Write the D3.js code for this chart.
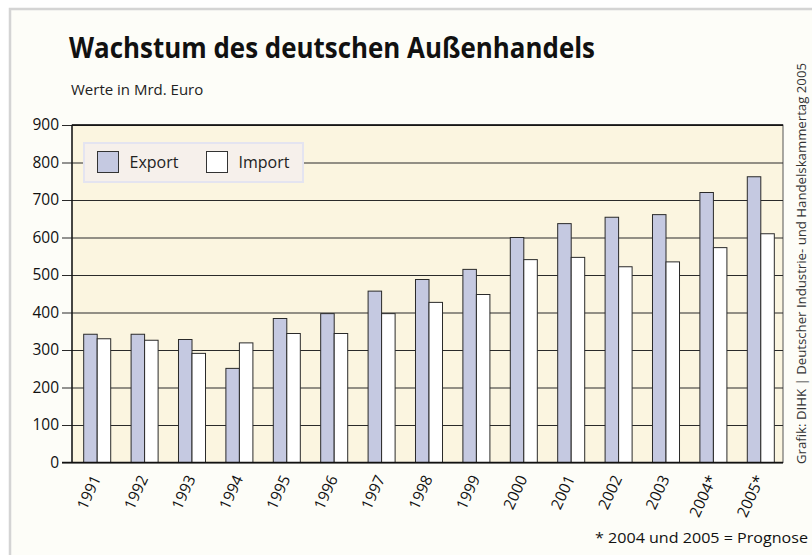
<!DOCTYPE html>
<html>
<head>
<meta charset="utf-8">
<script src="https://cdn.jsdelivr.net/npm/d3@7"></script>
<style>
  body { margin: 0; background: #fff; }
  svg { display: block; font-family: "Open Sans", sans-serif; }
</style>
</head>
<body>
<svg width="812" height="555"></svg>
<script>
// data (Mrd. Euro)
var years = ['1991', '1992', '1993', '1994', '1995', '1996', '1997', '1998',
             '1999', '2000', '2001', '2002', '2003', '2004*', '2005*'];
var exportVals = [342, 342, 328, 251, 384, 397, 457, 488, 515, 600, 637, 654, 661, 720, 762];
var importVals = [330, 326, 291, 319, 344, 344, 397, 427, 448, 541, 547, 522, 535, 573, 610];
var yTicks = [0, 100, 200, 300, 400, 500, 600, 700, 800, 900];
var seriesNames = ['Export', 'Import'];

var svg = d3.select('svg');
var W = +svg.attr('width'), H = +svg.attr('height');

// plot area
var plot = {l: 72, r: 783, t: 125, b: 462.5};

// card + shadow edge
svg.append('rect').attr('x', 0).attr('y', 0).attr('width', W).attr('height', H).attr('fill', '#ffffff');
svg.append('rect').attr('x', 10).attr('y', 9).attr('width', W).attr('height', H)
  .attr('fill', '#fdfdf8').attr('stroke', '#d4d4d4').attr('stroke-width', 2.5);

// helper: fit text to a measured width
function fit(sel, w) {
  var len = sel.node().getComputedTextLength();
  if (Math.abs(len - w) > 2) sel.attr('textLength', w).attr('lengthAdjust', 'spacingAndGlyphs');
}

// title & subtitle
var title = svg.append('text').attr('x', 69).attr('y', 58)
  .style('font-size', '29px').style('font-weight', 700).style('fill', '#111')
  .text('Wachstum des deutschen Außenhandels');
fit(title, 526);

svg.append('text').attr('x', 71).attr('y', 95)
  .style('font-size', '15px').style('fill', '#222')
  .text('Werte in Mrd. Euro');

var x = d3.scaleBand().domain(years).range([73.5, 784.5]).paddingInner(0.43).paddingOuter(0.215);
var xs = d3.scaleBand().domain(seriesNames).range([0, x.bandwidth()]);
var y = d3.scaleLinear().domain([0, 900]).range([plot.b, plot.t]);

// background
svg.append('rect').attr('x', plot.l).attr('y', plot.t)
  .attr('width', plot.r - plot.l).attr('height', plot.b - plot.t)
  .attr('fill', '#fbf5e0').attr('stroke', '#555').attr('stroke-width', 1);

// grid lines + ticks
var yAxis = d3.axisLeft(y).tickValues(yTicks).tickSize(-(plot.r - plot.l)).tickPadding(13);
var gy = svg.append('g').attr('transform', 'translate(' + plot.l + ',0)').call(yAxis);
gy.select('.domain').remove();
gy.selectAll('.tick line').attr('x1', -10).attr('stroke', '#2a2a2a').attr('stroke-width', 1.2);
gy.selectAll('.tick text').style('font-size', '15.5px').style('fill', '#111')
  .style('font-family', '"Open Sans", sans-serif');

// legend
var leg = svg.append('g');
leg.append('rect').attr('x', 84).attr('y', 143).attr('width', 219).attr('height', 39)
  .attr('fill', '#f6f0eb').attr('stroke', '#e4e4f0').attr('stroke-width', 2);
var legX = [97.5, 206.5];
seriesNames.forEach(function(s, i) {
  leg.append('rect').attr('x', legX[i]).attr('y', 151.5).attr('width', 21).attr('height', 21)
    .attr('fill', i === 0 ? '#c5c9e1' : '#ffffff').attr('stroke', '#333').attr('stroke-width', 1);
  leg.append('text').attr('x', legX[i] + 32).attr('y', 168)
    .style('font-size', '16px').style('fill', '#222').text(s);
});

// bars
var rows = years.map(function(yr, i) { return {year: yr, vals: [exportVals[i], importVals[i]]}; });
var groups = svg.append('g').selectAll('g').data(rows).enter().append('g')
  .attr('transform', function(d) { return 'translate(' + x(d.year) + ',0)'; });
groups.selectAll('rect').data(function(d) {
    return d.vals.map(function(v, i) { return {name: seriesNames[i], v: v}; });
  }).enter().append('rect')
  .attr('x', function(d) { return xs(d.name); })
  .attr('y', function(d) { return y(d.v); })
  .attr('width', xs.bandwidth())
  .attr('height', function(d) { return y(0) - y(d.v); })
  .attr('fill', function(d) { return d.name === 'Export' ? '#c5c9e1' : '#ffffff'; })
  .attr('stroke', '#2a2a2a').attr('stroke-width', 1);

// axis lines
svg.append('line').attr('x1', plot.l).attr('x2', plot.l).attr('y1', plot.t).attr('y2', plot.b)
  .attr('stroke', '#111').attr('stroke-width', 1.3);
svg.append('line').attr('x1', plot.l - 10).attr('x2', plot.r).attr('y1', plot.b).attr('y2', plot.b)
  .attr('stroke', '#111').attr('stroke-width', 1.3);
svg.append('line').attr('x1', plot.l).attr('x2', plot.r).attr('y1', plot.t).attr('y2', plot.t)
  .attr('stroke', '#111').attr('stroke-width', 1.3);

// x labels
svg.append('g').selectAll('text').data(years).enter().append('text')
  .attr('transform', function(d) {
    return 'translate(' + (x(d) + x.bandwidth() / 2 + 4) + ',' + (plot.b + 16) + ') rotate(-65)';
  })
  .attr('text-anchor', 'end')
  .style('font-size', '15.5px').style('fill', '#111')
  .text(function(d) { return d; });

// footnote
var foot = svg.append('text').attr('x', 808).attr('y', 543).attr('text-anchor', 'end')
  .style('font-size', '15px').style('fill', '#111')
  .text('* 2004 und 2005 = Prognose');
fit(foot, 213);

// source, vertical
var src = svg.append('text').attr('transform', 'translate(806,464) rotate(-90)')
  .style('font-size', '13.5px').style('fill', '#333')
  .text('Grafik: DIHK | Deutscher Industrie- und Handelskammertag 2005');
fit(src, 401);
</script>
</body>
</html>
